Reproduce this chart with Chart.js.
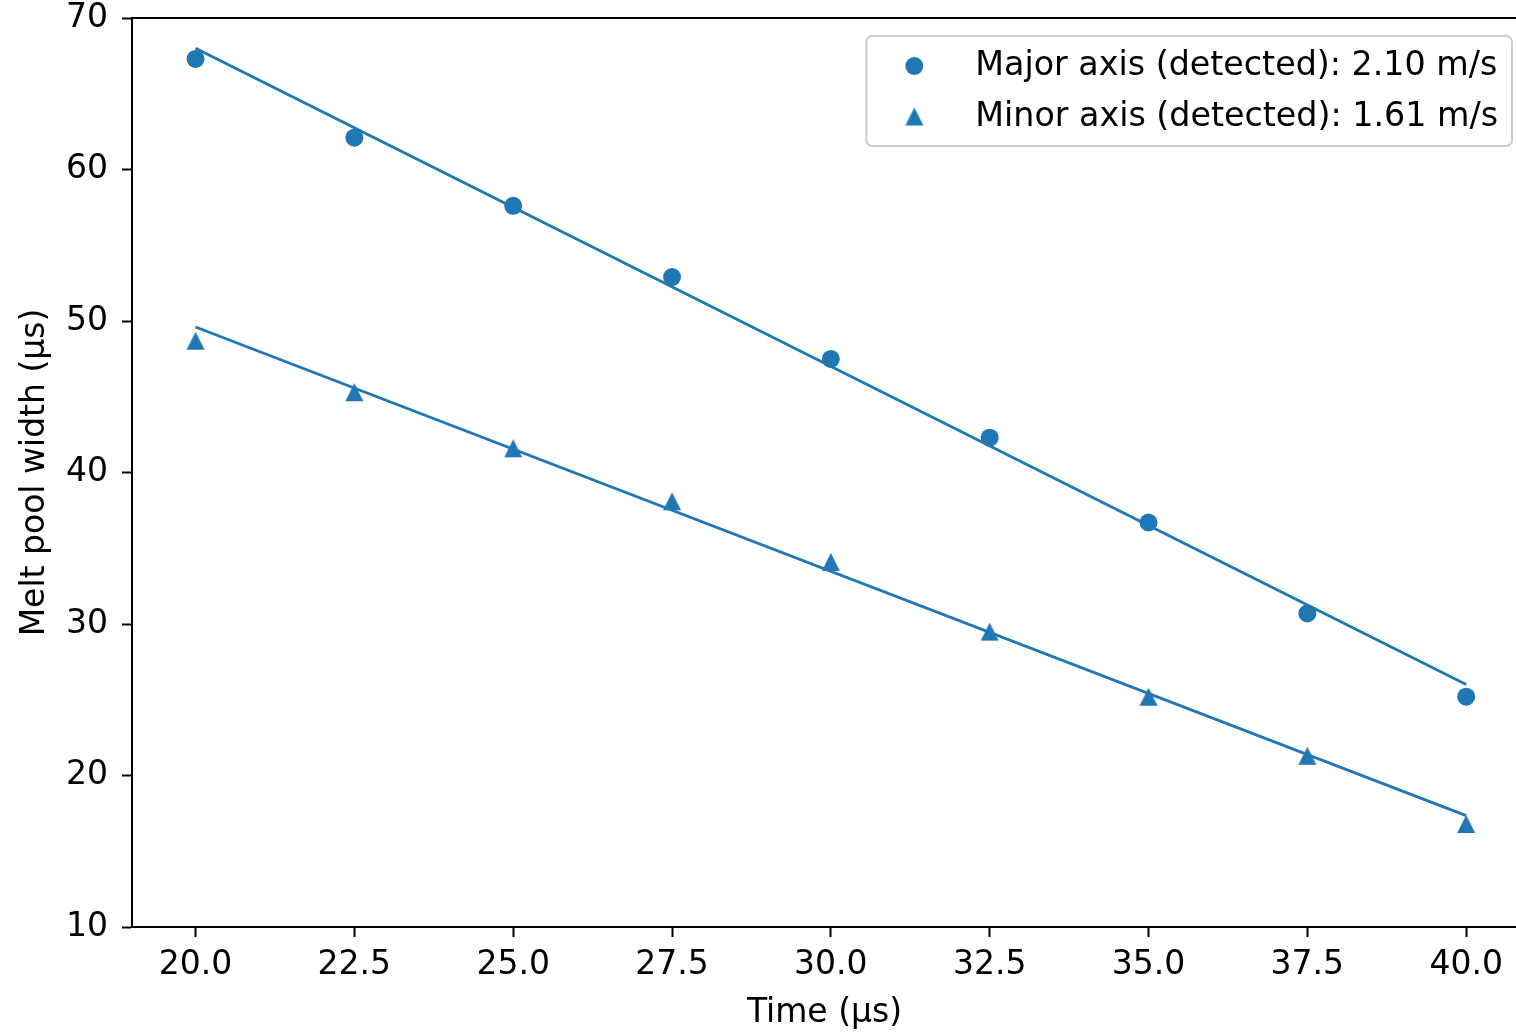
<!DOCTYPE html>
<html>
<head>
<meta charset="utf-8">
<script src="https://cdn.jsdelivr.net/npm/chart.js@4.4.1/dist/chart.umd.min.js"></script>
<style>
  html, body { margin: 0; padding: 0; background: #ffffff; overflow: hidden; }
  #wrap { position: relative; width: 1516px; height: 1033px; overflow: hidden; }
</style>
</head>
<body>
<div id="wrap"><canvas id="c" width="1527" height="1033"></canvas></div>
<script>
// ---- data ----
const timeUs = [20.0, 22.5, 25.0, 27.5, 30.0, 32.5, 35.0, 37.5, 40.0];
const majorAxis = [67.3, 62.1, 57.6, 52.9, 47.5, 42.3, 36.7, 30.7, 25.2];
const minorAxis = [48.7, 45.3, 41.6, 38.1, 34.1, 29.5, 25.2, 21.3, 16.8];
const fitX = [20.0, 40.0];
const majorFit = [68.0, 26.0];
const minorFit = [49.6, 17.35];
const xTicks = [20.0, 22.5, 25.0, 27.5, 30.0, 32.5, 35.0, 37.5, 40.0];
const yTicks = [10, 20, 30, 40, 50, 60, 70];
const legendLabels = ['Major axis (detected): 2.10 m/s', 'Minor axis (detected): 1.61 m/s'];

const BLUE = '#1f77b4';
const FONT = "'DejaVu Sans', sans-serif";
const FS = 33;
const LEG_FS = 33.3;

function pts(xs, ys) { return xs.map((x, i) => ({ x: x, y: ys[i] })); }

// matplotlib-like '^' marker (bbox centred)
function makeTri(size) {
  const c = document.createElement('canvas');
  c.width = size + 2; c.height = size + 2;
  const g = c.getContext('2d');
  g.fillStyle = BLUE;
  g.beginPath();
  g.moveTo(1 + size / 2, 1);
  g.lineTo(1, 1 + size);
  g.lineTo(1 + size, 1 + size);
  g.closePath();
  g.fill();
  return c;
}
const triImg = makeTri(18);

const frameAndLegend = {
  id: 'frameAndLegend',
  afterDraw(chart) {
    const ctx = chart.ctx;
    const a = chart.chartArea;
    ctx.save();
    // top spine
    ctx.strokeStyle = '#000';
    ctx.lineWidth = 2;
    ctx.beginPath();
    ctx.moveTo(a.left - 1, a.top);
    ctx.lineTo(chart.width, a.top);
    ctx.stroke();
    // legend
    ctx.font = LEG_FS + 'px ' + FONT;
    const tw = Math.max(...legendLabels.map(t => ctx.measureText(t).width));
    const boxRight = Math.min(a.right, 1516) - 4;
    const textX = boxRight - 14 - tw;
    const markerX = textX - 61;
    const boxLeft = markerX - 48;
    const boxTop = a.top + 18;
    const boxH = 110;
    ctx.fillStyle = 'rgba(255,255,255,0.8)';
    ctx.strokeStyle = '#cccccc';
    ctx.lineWidth = 2;
    ctx.beginPath();
    ctx.roundRect(boxLeft, boxTop, boxRight - boxLeft, boxH, 6);
    ctx.fill();
    ctx.stroke();
    // markers
    ctx.fillStyle = BLUE;
    ctx.beginPath();
    ctx.arc(markerX, boxTop + 30, 9, 0, Math.PI * 2);
    ctx.fill();
    ctx.drawImage(triImg, markerX - 10, boxTop + 80.5 - 10);
    // text
    ctx.fillStyle = '#000';
    ctx.textBaseline = 'middle';
    ctx.textAlign = 'left';
    ctx.fillText(legendLabels[0], textX, boxTop + 30);
    ctx.fillText(legendLabels[1], textX, boxTop + 81);
    ctx.restore();
  }
};

new Chart(document.getElementById('c'), {
  type: 'scatter',
  data: {
    datasets: [
      { label: 'Major fit', data: pts(fitX, majorFit), showLine: true, borderColor: BLUE, borderWidth: 2.8, pointRadius: 0, order: 0 },
      { label: 'Minor fit', data: pts(fitX, minorFit), showLine: true, borderColor: BLUE, borderWidth: 2.8, pointRadius: 0, order: 0 },
      { label: legendLabels[0], data: pts(timeUs, majorAxis), pointStyle: 'circle', pointRadius: 9, backgroundColor: BLUE, borderWidth: 0, order: 1 },
      { label: legendLabels[1], data: pts(timeUs, minorAxis), pointStyle: triImg, pointRadius: 10, backgroundColor: BLUE, borderWidth: 0, order: 1 }
    ]
  },
  options: {
    responsive: false,
    animation: false,
    devicePixelRatio: 1,
    layout: { padding: { top: 18, right: 0, left: 0, bottom: 0 } },
    plugins: { legend: { display: false }, tooltip: { enabled: false } },
    scales: {
      x: {
        type: 'linear', min: 19.0, max: 40.8,
        afterBuildTicks: s => { s.ticks = xTicks.map(v => ({ value: v })); },
        afterFit: s => { s.height = 106; s.paddingLeft = 0; s.paddingRight = 0; },
        grid: { drawOnChartArea: false, tickLength: 10, tickWidth: 2, tickColor: '#000' },
        border: { color: '#000', width: 2 },
        ticks: { color: '#000', font: { family: FONT, size: FS }, padding: 9, maxRotation: 0, callback: v => Number(v).toFixed(1) },
        title: { display: true, text: 'Time (µs)', color: '#000', font: { family: FONT, size: FS }, padding: { top: 0, bottom: 0 } }
      },
      y: {
        type: 'linear', min: 10, max: 70,
        afterBuildTicks: s => { s.ticks = yTicks.map(v => ({ value: v })); },
        afterFit: s => { s.width = 132; s.paddingTop = 0; s.paddingBottom = 0; },
        grid: { drawOnChartArea: false, tickLength: 10, tickWidth: 2, tickColor: '#000' },
        border: { color: '#000', width: 2 },
        ticks: { color: '#000', font: { family: FONT, size: FS }, padding: 14, callback: v => String(v) },
        title: { display: true, text: 'Melt pool width (µs)', color: '#000', font: { family: FONT, size: FS }, padding: { top: 16, bottom: 0 } }
      }
    }
  },
  plugins: [frameAndLegend]
});
</script>
</body>
</html>
